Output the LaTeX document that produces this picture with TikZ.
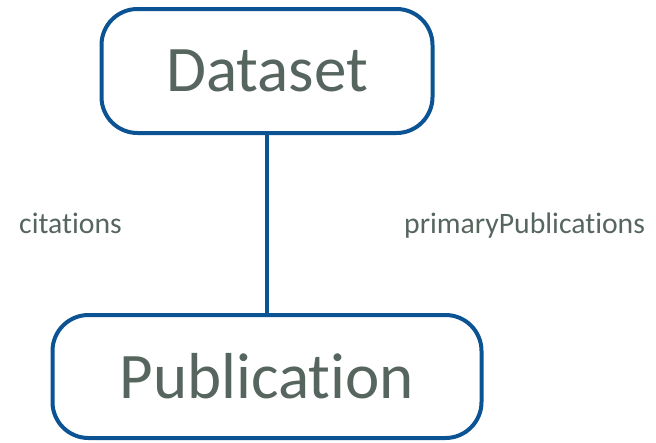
\documentclass[tikz,border=0pt]{standalone}
\usepackage{fontspec}
\setmainfont[Ligatures=NoCommon]{Carlito}
\usepackage{tikz}
\usetikzlibrary{positioning}
\definecolor{boxblue}{HTML}{0B5392}
\definecolor{textgray}{HTML}{56655E}

\begin{document}
\begin{tikzpicture}[x=1pt,y=-1pt,
	classbox/.style={draw=boxblue,line width=4pt,rounded corners=36pt,fill=white,text=textgray,font=\fontsize{65}{70}\selectfont,inner sep=0pt},
	rolelabel/.style={text=textgray,font=\fontsize{29.7}{32}\selectfont,inner sep=0pt,anchor=base west}]
			\useasboundingbox (0,0) rectangle (656,442);
			\node[classbox, minimum width=331pt, minimum height=124pt] (dataset) at (267,71) {Dataset};
			\node[classbox, minimum width=429pt, minimum height=123pt] (publication) at (267,376.5) {Publication};
			\draw[color=boxblue, line width=4pt] (dataset)--(publication);
			\node[rolelabel] (citations) at (19,233) {citations};
			\node[rolelabel] (primary) at (404,233) {primaryPublications};
		\end{tikzpicture}
\end{document}
